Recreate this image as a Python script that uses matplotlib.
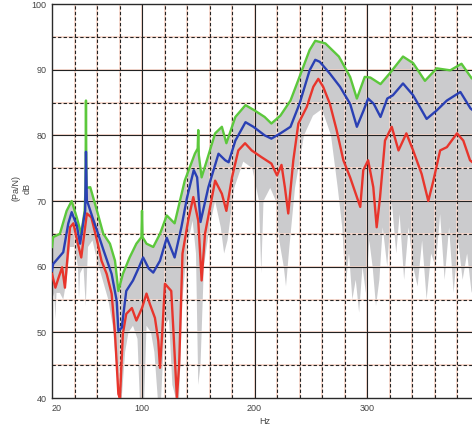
import matplotlib
matplotlib.use("Agg")
import matplotlib.pyplot as plt
import numpy as np

# mean response (blue)
blue_hz = [20, 21, 25, 30, 34.5, 37.5, 42, 45, 48, 49.5, 50.2, 51, 52, 56, 60, 66, 73, 77.5, 79, 82,
           86, 92, 97, 101, 106, 110, 116, 122, 129, 135, 140, 146, 149, 152, 159, 168, 174, 177, 183, 192,
           199, 209, 215, 223, 232, 240, 249, 254, 258, 267, 276, 285, 291, 297, 301, 306, 312, 318, 323, 332,
           341, 353, 362, 371, 383, 392, 400, 420]
blue_db = [59.4, 60.4, 61.2, 62.2, 66.6, 68.3, 66.3, 63.5, 67.0, 68.5, 77.5, 70.0, 69.6, 67.5, 65.5, 62.4, 58.9, 54.8, 50.2, 50.7,
           56.3, 57.9, 59.8, 61.4, 59.7, 59.1, 60.9, 64.4, 61.4, 66.0, 70.5, 74.7, 73.6, 66.8, 72.1, 77.2, 76.2, 75.9, 79.2, 82.0,
           81.3, 80.0, 79.5, 80.3, 81.3, 84.8, 89.9, 91.5, 91.2, 89.4, 87.4, 84.8, 81.3, 83.8, 85.6, 84.8, 82.8, 85.6, 86.1, 87.9,
           86.1, 82.5, 83.8, 85.3, 86.6, 84.1, 83.0, 84.0]

# maximum (green)
green_hz = [20, 21, 27, 33, 37.5, 42, 46, 49, 49.8, 50.2, 50.6, 54, 60, 65.6, 71.5, 76, 79, 83, 89, 95,
            99.5, 100, 100.5, 104, 110, 116, 122, 129, 138, 147, 149.5, 150, 150.5, 153, 165, 171, 175, 183, 192, 200,
            209, 215, 223, 232, 240, 249, 254, 263, 275, 285, 291, 298, 303, 312, 320, 332, 341, 351.5, 362, 374,
            384, 393, 400, 420]
green_db = [63.0, 64.5, 65.0, 68.5, 70.0, 67.5, 65.0, 68.5, 72.0, 85.3, 72.0, 72.1, 68.5, 65.0, 63.5, 60.9, 56.3, 58.9, 61.4, 63.5,
            64.5, 68.5, 64.5, 63.5, 63.0, 65.0, 67.8, 66.6, 73.1, 77.2, 78.0, 80.8, 77.0, 73.6, 80.3, 81.3, 78.8, 82.8, 84.6, 83.8,
            82.8, 81.8, 83.0, 85.3, 88.9, 93.0, 94.4, 94.0, 92.0, 88.9, 85.6, 88.9, 88.8, 87.8, 89.4, 92.0, 91.0, 88.3, 90.2, 89.9,
            90.9, 88.7, 88.0, 89.0]

# minimum (red)
red_hz = [20, 23, 26, 29, 31.5, 36, 39, 43, 46, 51, 55, 60, 64, 68.6, 73, 76, 79, 80.4, 83, 86,
          91, 95, 100, 104, 107, 111.5, 114.5, 116, 118, 120.4, 126, 128, 131, 133, 136, 141, 145.6, 150, 153, 156,
          165, 171, 175, 180, 185.6, 191.6, 197.5, 206, 215, 220, 224, 227, 230, 234.5, 239, 246.4, 252.3, 256.7, 261, 267,
          273, 279, 285, 289, 294, 296.7, 301, 305.6, 308.6, 311.6, 316, 322, 328, 335, 341, 348.6, 354.5, 359, 365, 371,
          380, 385.6, 391.6, 400, 420]
red_db = [58.9, 56.8, 58.4, 59.9, 56.8, 66.0, 66.6, 63.5, 61.4, 68.1, 67.5, 64.0, 60.9, 58.9, 55.9, 49.8, 40.6, 40.0, 49.8, 52.8,
          53.7, 51.8, 53.7, 55.9, 54.3, 52.2, 48.7, 44.6, 50.0, 57.4, 56.3, 50.0, 40.0, 45.0, 62.0, 67.0, 70.6, 67.0, 57.9, 65.0,
          73.1, 71.1, 68.5, 73.6, 77.7, 78.8, 77.7, 76.7, 75.7, 73.9, 75.5, 72.1, 68.1, 76.2, 81.8, 84.3, 87.4, 88.6, 87.4, 84.8,
          80.8, 76.2, 73.6, 71.6, 69.1, 74.7, 76.2, 72.1, 66.0, 70.6, 79.2, 81.3, 77.7, 80.3, 77.7, 74.1, 70.0, 73.1, 77.7, 78.2,
          80.3, 79.2, 76.2, 75.0, 77.0]

# lower edge of the individual (grey) measurements
gray_hz = [20, 22, 23, 24, 27, 30, 33, 36, 40, 43, 44, 45, 48, 50, 52, 56, 60, 65, 70, 74,
           77, 79, 82, 85, 88, 92, 96, 98, 99, 102, 104, 108, 111, 114, 117, 120, 124, 127, 130, 133,
           136, 140, 145, 148, 150, 152, 155, 160, 165, 170, 173, 176, 182, 190, 198, 204, 206, 208, 214, 219,
           222, 226, 228, 231, 236, 244, 252, 260, 268, 274, 278, 281, 284, 287, 290, 293, 296, 299, 302, 305,
           308, 311, 314, 318, 322, 326, 329, 333, 337, 341, 345, 349, 353, 357, 361, 365, 369, 373, 377, 381,
           385, 389, 393, 400, 420]
gray_db = [55, 56, 52, 56, 56, 55, 58, 63, 63, 60, 55, 59, 60, 54, 63, 64, 61, 58, 55, 51,
           45, 40, 40, 47, 50, 51, 49, 40, 40, 40, 51, 50, 47, 40, 40, 51, 52, 42, 40, 40,
           55, 63, 67, 62, 42, 45, 60, 66, 70, 66, 62, 64, 72, 76, 75, 70, 59, 70, 72, 70,
           64, 60, 57, 63, 72, 80, 83, 84, 80, 72, 66, 57, 62, 55, 58, 53, 60, 56, 64, 60,
           54, 58, 66, 60, 70, 62, 68, 58, 66, 60, 57, 64, 55, 62, 60, 68, 58, 66, 56, 64,
           58, 62, 56, 62, 65]

y_major = [40, 50, 60, 70, 80, 90, 100]
y_minor = [45, 55, 65, 75, 85, 95]
x_major = [20, 100, 200, 300, 400]
x_minor = [40, 60, 80, 120, 140, 160, 180, 220, 240, 260, 280, 320, 340, 360, 380]

plt.rcParams['font.family'] = ['Liberation Sans', 'DejaVu Sans']

fig = plt.figure(figsize=(4.72, 4.34), dpi=100)
# axes runs past the right edge of the picture, like the cropped original
ax = fig.add_axes([52 / 472, 36 / 434, 450 / 472, 394 / 434])
ax.set_xlim(20, 420)
ax.set_ylim(40, 100)

# grey band of single measurements
poly_x = np.concatenate([gray_hz, green_hz[::-1]])
poly_y = np.concatenate([gray_db, green_db[::-1]])
ax.fill(poly_x, poly_y, color='#cbcbcd', lw=0, zorder=1)

# grid: salmon underlay with black lines on top
salmon = '#f8d8cc'
for x in x_minor:
    ax.axvline(x, color=salmon, lw=1.3, zorder=2)
    ax.axvline(x, color='#222222', lw=0.8, dashes=(3, 2), zorder=2.1)
for x in x_major[1:]:
    ax.axvline(x, color=salmon, lw=1.3, zorder=2)
    ax.axvline(x, color='#222222', lw=0.8, zorder=2.1)
for y in y_minor:
    ax.axhline(y, color=salmon, lw=1.3, zorder=2)
    ax.axhline(y, color='#222222', lw=0.8, dashes=(3, 2), zorder=2.1)
for y in y_major[1:-1]:
    ax.axhline(y, color=salmon, lw=1.3, zorder=2)
    ax.axhline(y, color='#222222', lw=0.8, zorder=2.1)

ax.plot(red_hz, red_db, color='#e8352c', lw=1.7, zorder=3)
ax.plot(green_hz, green_db, color='#5cc83c', lw=1.7, zorder=3)
ax.plot(blue_hz, blue_db, color='#2a40b4', lw=1.7, zorder=4)

for s in ax.spines.values():
    s.set_color('#2a2a2a')
    s.set_linewidth(1.0)

ax.set_xticks(x_major)
ax.set_yticks(y_major)
ax.tick_params(length=0, labelsize=6.5, labelcolor='#444444', pad=4)
ax.get_xticklabels()[0].set_horizontalalignment('left')

fig.text(265 / 472, 1 - 422 / 434, 'Hz', fontsize=6.5, color='#444444', ha='center', va='center')
fig.text(22 / 472, 1 - 188 / 434, '(Pa/N)\ndB', fontsize=6.5, color='#444444', ha='center', va='center',
         rotation=90, linespacing=1.3)

fig.savefig('out.png', dpi=100)
